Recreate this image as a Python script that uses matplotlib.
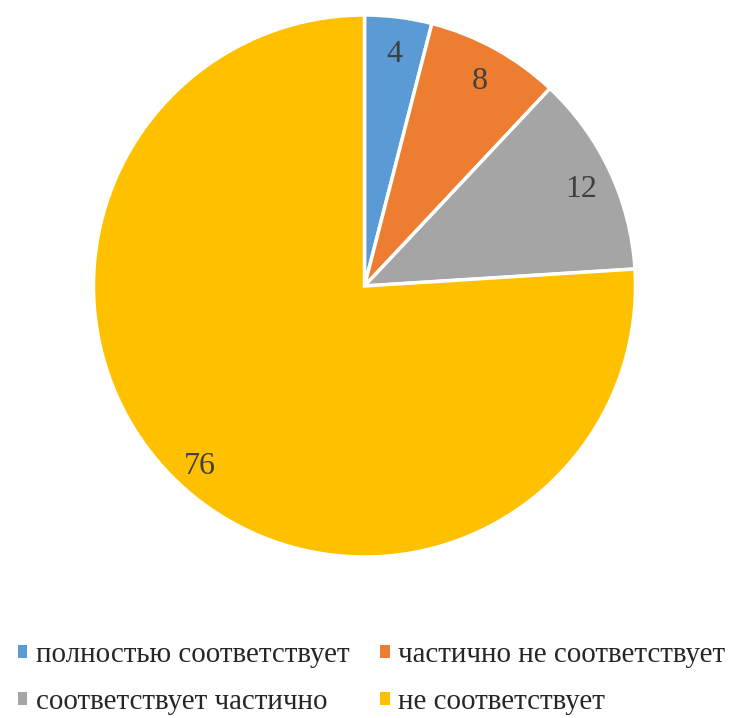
import matplotlib
matplotlib.use("Agg")
import matplotlib.pyplot as plt
import matplotlib.transforms as mtransforms
from matplotlib.patches import Patch

categories = ["полностью соответствует", "частично не соответствует",
              "соответствует частично", "не соответствует"]
values = [4, 8, 12, 76]
colors = ["#5B9BD5", "#ED7D31", "#A5A5A5", "#FFC000"]

plt.rcParams['font.family'] = ['Liberation Serif', 'DejaVu Serif']

fig = plt.figure(figsize=(7.29, 7.18), dpi=100)
ax = fig.add_axes([93.5/729, 161/718, 542/729, 542/718])
wedges, texts = ax.pie(values, colors=colors, startangle=90, counterclock=False,
                       labels=[str(v) for v in values], labeldistance=0.885,
                       wedgeprops=dict(edgecolor="white", linewidth=2.5),
                       textprops=dict(fontsize=23, color="#404040"))
for t in texts:
    t.set_ha("center"); t.set_va("center")
    t.set_transform(mtransforms.offset_copy(t.get_transform(), fig=fig,
                                            x=0, y=-6, units="dots"))
ax.set_xlim(-1, 1); ax.set_ylim(-1, 1)
ax.set_aspect("equal")

order = [0, 2, 1, 3]
handles = [Patch(facecolor=colors[i], edgecolor="none") for i in order]
labels = [categories[i] for i in order]
fig.legend(handles, labels, ncol=2, loc="lower left", bbox_to_anchor=(-0.007, -0.028),
           frameon=False, fontsize=20.9, handlelength=0.32, handleheight=0.32,
           handletextpad=0.3, columnspacing=1.05, labelspacing=0.72,
           borderpad=0.3, labelcolor="#262626")
fig.savefig("out.png", dpi=100)
